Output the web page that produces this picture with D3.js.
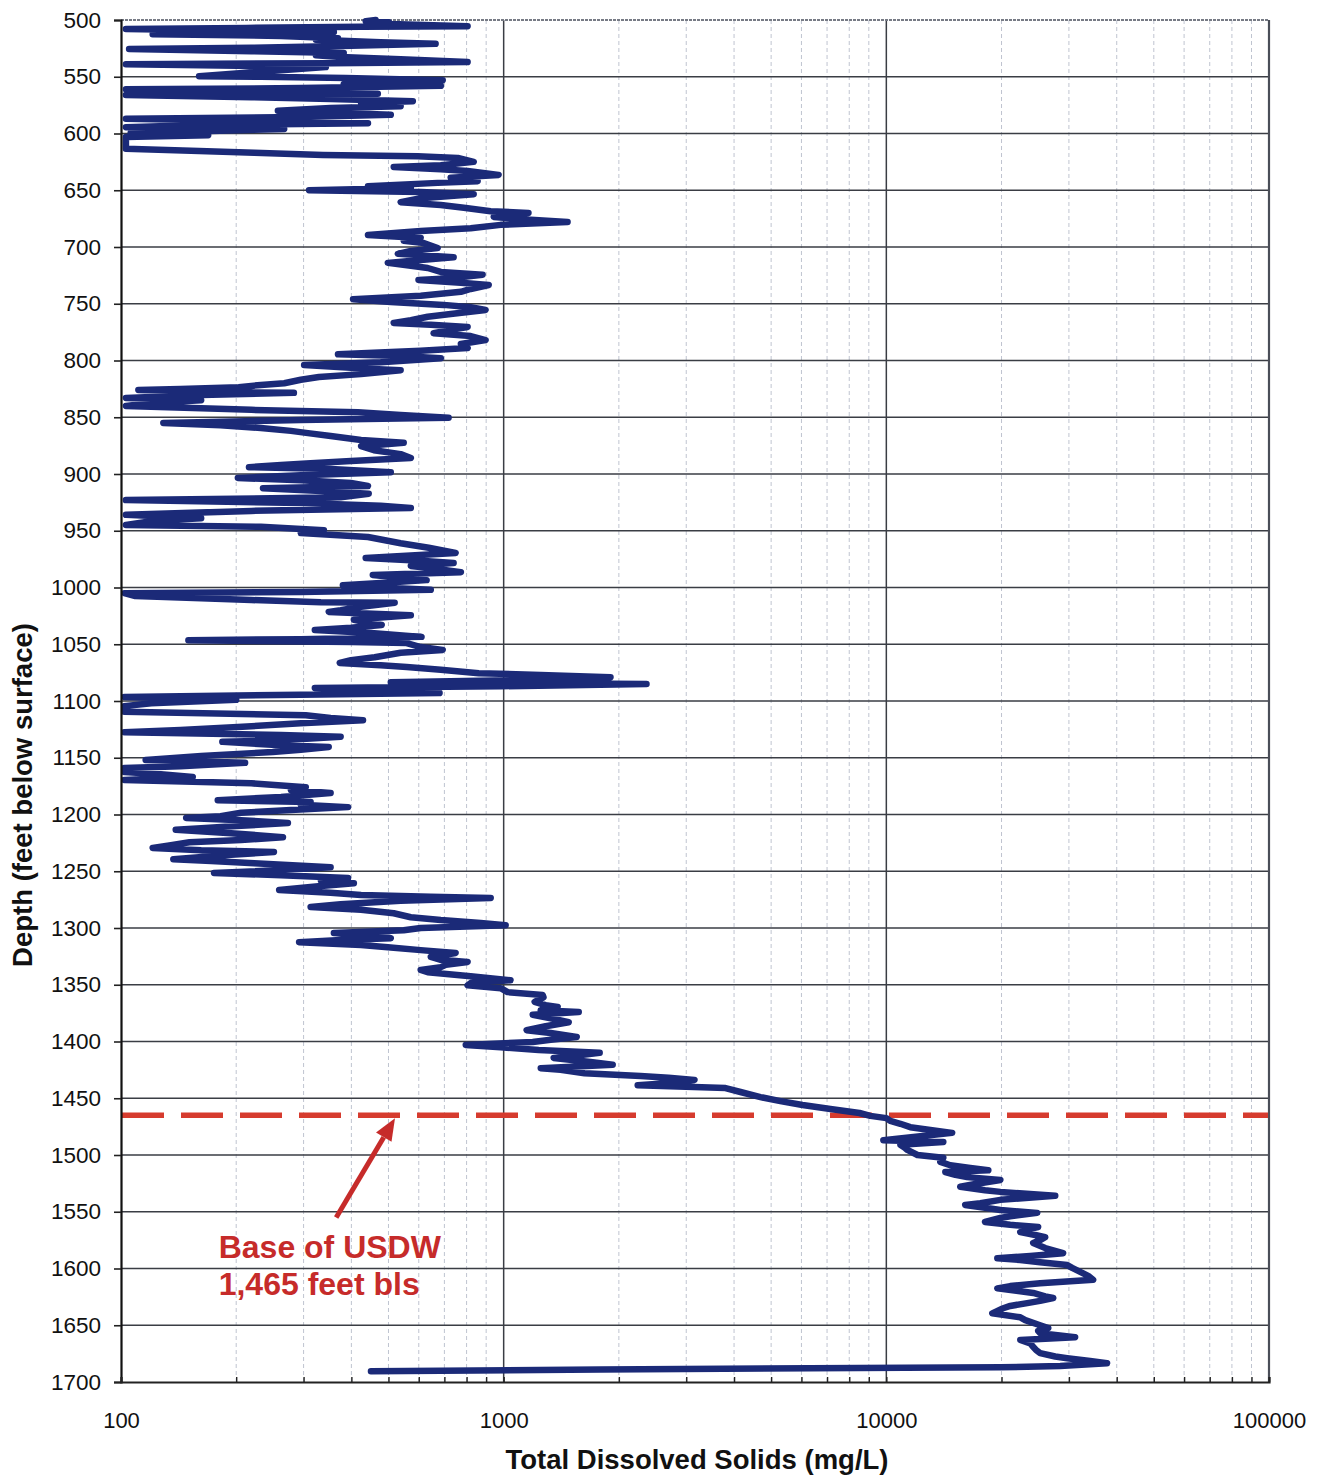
<!DOCTYPE html>
<html>
<head>
<meta charset="utf-8">
<script src="https://cdn.jsdelivr.net/npm/d3@7"></script>
<style>
  html, body { margin: 0; padding: 0; background: #ffffff; }
  svg { display: block; }
  text { font-family: "Liberation Sans", Arial, sans-serif; }
</style>
</head>
<body>
<div id="chart"></div>
<script>
// Geophysical log: total dissolved solids (mg/L) against depth (feet below land surface).
// Each entry is [depth ft, TDS mg/L], split into depth intervals.
const logInterval500to700 = [
  [500,463],[501,436],[502,501],[503.5,507],[505.5,805],[506,424],[507,212],[508,103],[509.5,206],[510.5,360],
  [512.5,121],[514,262],[516,369],[517.5,323],[519.5,477],[521,664],[523,375],[524.5,219],[525.5,105],[527.5,219],
  [529,382],[531,323],[532.5,375],[534.5,538],[537,805],[538,353],[539,103],[540.5,232],[541.5,343],[549.5,160],
  [550,232],[551,387],[553,693],[554.5,538],[556.5,382],[558,685],[560,295],[561,103],[562.5,162],[563.5,295],
  [565,469],[566,103],[568,219],[569.5,353],[571.5,579],[573,424],[576,538],[577.5,353],[580,257],[582,375],
  [583.5,507],[585.5,295],[587,103],[589,219],[591,442],[592.5,162],[594.5,103],[596,267],[598,162],[599.5,106],
  [601.5,169],[603,103],[613.5,103],[615.5,160],[617,223],[619,337],[620,596],[621.5,759],[625,835],[628,685],
  [629.5,516],[631.5,685],[633,805],[636.5,970],[639,727],[642,855],[643.5,672],[646.5,442],[648,572],[650,310],
  [651.5,607],[653.5,835],[657,607],[660.5,538],[663,685],[665.5,787],[668.5,925],[670,1161],[673.5,942],[676,1177],
  [678,1469],[680.5,982],[683.5,820],[686,607],[689.5,442],[692,607],[694.5,548],[696.5,618]
];
const logInterval700to1000 = [
  [701,672],[703.5,572],[706,529],[709,740],[711.5,607],[714,498],[716.5,572],[718.5,633],[722,685],[724.5,881],
  [727.5,727],[729,599],[731.5,773],[733.5,914],[737,820],[739.5,773],[743,607],[746,404],[748.5,507],[751,697],
  [753,820],[755.5,897],[759,727],[761.5,633],[764.5,572],[767,516],[768.5,645],[770.5,805],[773,727],[776,656],
  [778.5,820],[782,897],[785.5,773],[789,805],[791.5,607],[794.5,369],[796,538],[798,685],[801.5,477],[804,301],
  [806.5,399],[808.5,538],[812,424],[814.5,329],[817,295],[820,267],[821.5,232],[823.5,203],[825,143],[826,111],
  [828,194],[828.5,283],[830.5,162],[833,103],[835,162],[837.5,120],[840,103],[843.5,219],[845.5,416],[848,538],
  [850.5,718],[852.5,295],[855,129],[857,182],[859.5,232],[862,278],[864,308],[866.5,353],[870,424],[872.5,548],
  [875.5,424],[879,458],[882.5,538],[886,572],[888.5,399],[890.5,313],[892,262],[894,216],[895.5,353],[898.5,507],
  [901,295],[903.5,202],[905.5,295],[908,399],[910.5,442],[912.5,235],[915,333],[917.5,444],[920.5,375],[923,103],
  [925.5,295],[928,477],[930,572],[932.5,219],[936,103],[939,162],[941.5,120],[945,103],[946.5,232],[949.5,339],
  [952,295],[955.5,442],[961,538],[965,637],[969.5,749],[974,436],[976.5,607],[978.5,740],[981,572],[983,648],
  [986.5,773],[989,455],[991.5,538],[993.5,629],[996,477],[998,380]
];
const logInterval1000to1300 = [
  [1000.5,507],[1002,645],[1004,295],[1005,102],[1007.5,109],[1009.5,162],[1011,219],[1013,333],[1013.5,519],[1017,424],
  [1020,375],[1021.5,349],[1024.5,572],[1027,450],[1028.5,406],[1031.5,450],[1033,480],[1035.5,399],[1037.5,321],[1040,450],
  [1043.5,610],[1045.5,295],[1046.5,150],[1048,399],[1049,558],[1052.5,607],[1055,693],[1057.5,538],[1061.5,460],[1064,399],
  [1066.5,373],[1068.5,477],[1070,558],[1072.5,685],[1075.5,861],[1077,1250],[1079,1902],[1081.5,1108],[1083.5,507],[1084,982],
  [1085,2362],[1087,982],[1088.5,321],[1090.5,477],[1093,680],[1094.5,295],[1096.5,102],[1098.5,162],[1099,200],[1102,120],
  [1104.5,102],[1109.5,102],[1112.5,304],[1115,353],[1117,429],[1119.5,295],[1123,202],[1125.5,143],[1127.5,102],[1130,262],
  [1131.5,375],[1134.5,262],[1136,184],[1139,262],[1140.5,349],[1143,295],[1145,249],[1148.5,162],[1152,116],[1154.5,211],
  [1157.5,143],[1159,102],[1162.5,102],[1164.5,127],[1167,154],[1169.5,102],[1172.5,219],[1176,304],[1178.5,278],[1181,353],
  [1184.5,262],[1187.5,179],[1189,313],[1191.5,295],[1193.5,392],[1196,278],[1198.5,206],[1201.5,182],[1203,148],[1205,206],
  [1207.5,273],[1210,206],[1212,162],[1213.5,139],[1216.5,194],[1220,265],[1222.5,206],[1224.5,151],[1227,135],[1229.5,121],
  [1231.5,162],[1233,251],[1235.5,194],[1239.5,137],[1241,172],[1243,223],[1246.5,353],[1249,262],[1251.5,175],[1253.5,262],
  [1256,392],[1258.5,333],[1260.5,406],[1263,333],[1266.5,259],[1269,353],[1271,424],[1272.5,645],[1273.5,925],[1276,538],
  [1279,375],[1281.5,313],[1284,424],[1287,516],[1290.5,572],[1293,685],[1295.5,871],[1297.5,1012]
];
const logInterval1300to1690 = [
  [1300,607],[1302,548],[1304.5,360],[1307,477],[1309,507],[1310.5,375],[1312.5,292],[1315,424],[1317,498],[1319.5,607],
  [1322,749],[1325.5,645],[1328,685],[1330,805],[1332.5,706],[1334.5,685],[1337,607],[1339,633],[1342.5,820],[1346,1042],
  [1348.5,820],[1350.5,805],[1353,982],[1356.5,1024],[1359,1265],[1361,1271],[1365,1205],[1368,1287],[1369.5,1384],[1372.5,1250],
  [1374,1571],[1376.5,1191],[1379.5,1327],[1383,1479],[1386.5,1287],[1390,1148],[1392.5,1327],[1396,1552],[1398.5,1327],[1400.5,1191],
  [1403,796],[1405,982],[1407.5,1234],[1410,1782],[1413,1496],[1414.5,1351],[1418,1687],[1420.5,1927],[1423.5,1250],[1425,1408],
  [1428,1627],[1430.5,2279],[1432,2697],[1434,3153],[1436.5,2729],[1438.5,2240],[1441,3800],[1444.5,4157],[1449,4690],[1452.5,5287],
  [1456,6040],[1459.5,7142],[1463,8510],[1465.5,9082],[1467.5,10000],[1470,10240],[1472.5,10880],[1475.5,11550],[1478,13030],[1480.5,14860],
  [1483.5,12270],[1487,9822],[1488.5,14090],[1491,10880],[1494,11210],[1495.5,11350],[1500,12060],[1502.5,14090],[1506,13840],[1509,14690],
  [1511.5,16570],[1513.5,18470],[1515,14260],[1517.5,15150],[1519.5,16260],[1522,19860],[1525.5,17080],[1528,15600],[1531,18110],[1532.5,19860],
  [1536,27630],[1539.5,19860],[1542.5,17600],[1544,16070],[1546.5,18110],[1548.5,19860],[1551,24790],[1554,21070],[1555.5,19860],[1559,18110],
  [1561.5,21070],[1563.5,24930],[1566,23070],[1568,22390],[1570.5,24490],[1572.5,26010],[1575,25230],[1577.5,24200],[1582,26010],[1586.5,28970],
  [1589,23770],[1591,19500],[1592.5,22390],[1594.5,25230],[1597,29690],[1599.5,30590],[1603,32110],[1606.5,33680],[1610,34700],[1613,25230],
  [1615.5,21070],[1617.5,19500],[1620,22390],[1621.5,24200],[1624.5,26010],[1626,27300],[1628.5,25230],[1630.5,23350],[1633,21070],[1635,20200],
  [1639.5,18920],[1643,22390],[1645.5,23070],[1647,23770],[1650,25230],[1652.5,26490],[1655,24930],[1657,25230],[1660.5,31140],[1663,22390],
  [1666,23770],[1669,24200],[1672,24640],[1674.5,25230],[1677.5,27630],[1679,29690],[1681.5,34090],[1683.5,37740],[1686,28470],[1687,19860],
  [1689,1792],[1690.5,450]
];

// Axis definitions
const depthTicks = d3.range(500, 1701, 50);
const tdsDecades = [100, 1000, 10000, 100000];
const tdsDecadeLabels = ["100", "1000", "10000", "100000"];
const usdwBaseFt = 1465;
const usdwLabelLines = ["Base of USDW", "1,465 feet bls"];
const xTitle = "Total Dissolved Solids (mg/L)";
const yTitle = "Depth (feet below surface)";

const W = 1326, H = 1477;
const plot = { left: 121, right: 1269, top: 20, bottom: 1382 };

const x = d3.scaleLog().domain([100, 100000]).range([plot.left, plot.right]);
const y = d3.scaleLinear().domain([500, 1700]).range([plot.top, plot.bottom]);

const svg = d3.select("#chart").append("svg")
  .attr("width", W).attr("height", H);

svg.append("rect").attr("width", W).attr("height", H).attr("fill", "#ffffff");

// Minor log gridlines (2..9 within each decade)
const minorValues = [];
[100, 1000, 10000].forEach(dec => { for (let k = 2; k <= 9; k++) minorValues.push(k * dec); });

const grid = svg.append("g");
grid.selectAll("line.minor").data(minorValues).join("line")
  .attr("x1", d => x(d)).attr("x2", d => x(d))
  .attr("y1", plot.top).attr("y2", plot.bottom)
  .attr("stroke", "#bfc4d0").attr("stroke-width", 1).attr("stroke-dasharray", "4,3");

// Major vertical gridlines
grid.selectAll("line.vmajor").data([1000, 10000]).join("line")
  .attr("x1", d => x(d)).attr("x2", d => x(d))
  .attr("y1", plot.top).attr("y2", plot.bottom)
  .attr("stroke", "#3a3d44").attr("stroke-width", 1.5);

// Horizontal gridlines every 50 ft
grid.selectAll("line.hmajor").data(depthTicks.slice(1, -1)).join("line")
  .attr("x1", plot.left).attr("x2", plot.right)
  .attr("y1", d => y(d)).attr("y2", d => y(d))
  .attr("stroke", "#3a3d44").attr("stroke-width", 1.6);

// Plot frame: dotted grey top, dark right
svg.append("line")
  .attr("x1", plot.left).attr("x2", plot.right).attr("y1", plot.top).attr("y2", plot.top)
  .attr("stroke", "#777b85").attr("stroke-width", 2).attr("stroke-dasharray", "3,1");
svg.append("line")
  .attr("x1", plot.right).attr("x2", plot.right).attr("y1", plot.top).attr("y2", plot.bottom)
  .attr("stroke", "#4a4e58").attr("stroke-width", 2.2);

// Base of USDW (dashed red line)
svg.append("line")
  .attr("x1", plot.left + 1).attr("x2", plot.right - 1)
  .attr("y1", y(usdwBaseFt)).attr("y2", y(usdwBaseFt))
  .attr("stroke", "#d63b2e").attr("stroke-width", 5.5)
  .attr("stroke-dasharray", "42,17");

// TDS log curve
const logPoints = [].concat(logInterval500to700, logInterval700to1000,
                            logInterval1000to1300, logInterval1300to1690);
const line = d3.line().x(d => x(d[1])).y(d => y(d[0]));
svg.append("path")
  .datum(logPoints)
  .attr("d", line)
  .attr("fill", "none")
  .attr("stroke", "#1b2a78")
  .attr("stroke-width", 6.5)
  .attr("stroke-linejoin", "round")
  .attr("stroke-linecap", "round");

// Y axis (ticks outside)
const yAxis = d3.axisLeft(y).tickValues(depthTicks).tickSize(7).tickPadding(13).tickFormat(d3.format("d"));
const gy = svg.append("g").attr("transform", `translate(${plot.left},0)`).call(yAxis);
gy.select(".domain").attr("stroke", "#111").attr("stroke-width", 2.2);
gy.selectAll(".tick line").attr("stroke", "#222").attr("stroke-width", 1.6);
gy.selectAll(".tick text").attr("font-size", 22.5).attr("fill", "#111")
  .attr("font-family", "'Liberation Sans', Arial, sans-serif");

// X axis (short inward ticks, labels at decades)
const xAxis = d3.axisBottom(x)
  .tickValues(tdsDecades.concat(minorValues))
  .tickSize(-5).tickPadding(30)
  .tickFormat(d => { const i = tdsDecades.indexOf(d); return i >= 0 ? tdsDecadeLabels[i] : ""; });
const gx = svg.append("g").attr("transform", `translate(0,${plot.bottom})`).call(xAxis);
gx.select(".domain").attr("stroke", "#222").attr("stroke-width", 2.2);
gx.selectAll(".tick line").attr("stroke", "#222").attr("stroke-width", 1.4);
gx.selectAll(".tick text").attr("font-size", 22).attr("fill", "#111")
  .attr("font-family", "'Liberation Sans', Arial, sans-serif");

// Axis titles
svg.append("text")
  .attr("x", 697).attr("y", 1469)
  .attr("text-anchor", "middle").attr("font-size", 27.5).attr("font-weight", "bold").attr("fill", "#111")
  .text(xTitle);
svg.append("text")
  .attr("transform", "translate(32,795) rotate(-90)")
  .attr("text-anchor", "middle").attr("font-size", 27.5).attr("font-weight", "bold").attr("fill", "#111")
  .text(yTitle);

// Annotation arrow pointing at the USDW line
const red = "#c62b2a";
const tail = [x(365), y(1555)];
const tip = [x(520), y(usdwBaseFt) + 3];
const ang = Math.atan2(tip[1] - tail[1], tip[0] - tail[0]);
const headLen = 22, headHalf = 9;
const base = [tip[0] - headLen * Math.cos(ang), tip[1] - headLen * Math.sin(ang)];
svg.append("line")
  .attr("x1", tail[0]).attr("y1", tail[1]).attr("x2", base[0]).attr("y2", base[1])
  .attr("stroke", red).attr("stroke-width", 5);
svg.append("path")
  .attr("d", d3.line()([
    tip,
    [base[0] + headHalf * Math.sin(ang), base[1] - headHalf * Math.cos(ang)],
    [base[0] - headHalf * Math.sin(ang), base[1] + headHalf * Math.cos(ang)]
  ]) + "Z")
  .attr("fill", red);

svg.selectAll("text.usdw").data(usdwLabelLines).join("text")
  .attr("class", "usdw")
  .attr("x", x(180)).attr("y", (d, i) => 1258 + i * 37)
  .attr("font-size", 32).attr("font-weight", "bold").attr("fill", red)
  .text(d => d);
</script>
</body>
</html>
